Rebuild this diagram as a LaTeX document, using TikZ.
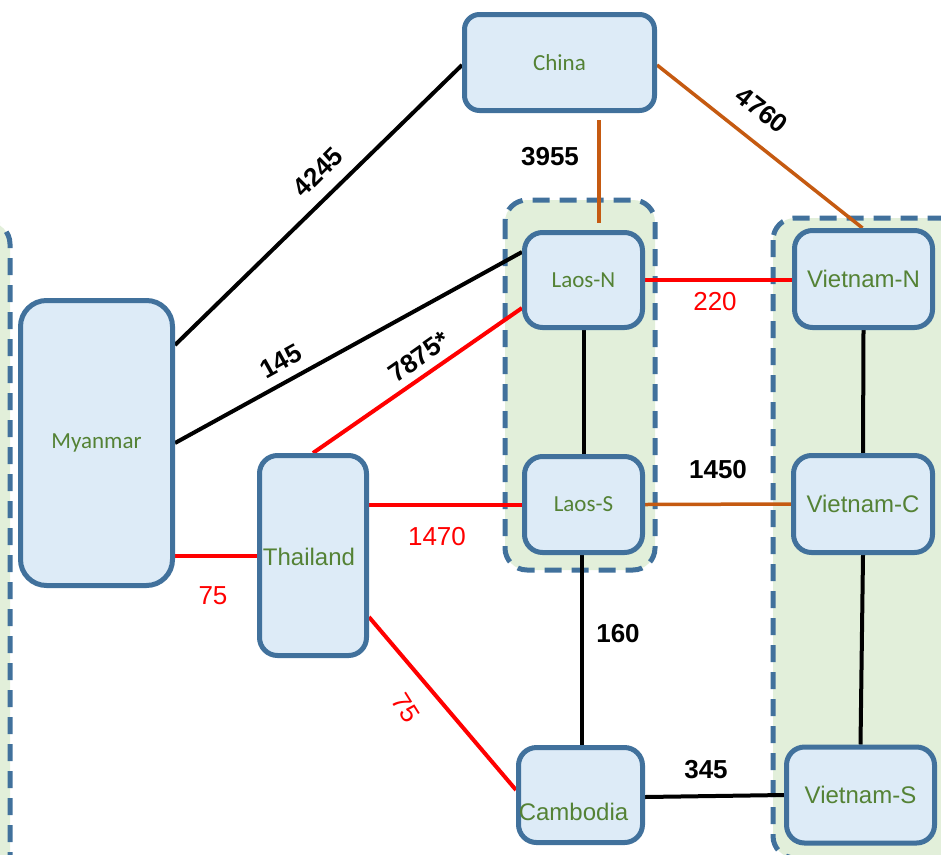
\documentclass[tikz,border=0pt]{standalone}
\usepackage{fontspec}
\setmainfont{Liberation Sans}
\newfontfamily\calib{Carlito}
\newfontfamily\arial{Liberation Sans}
\usetikzlibrary{calc}
\definecolor{boxblue}{HTML}{41719C}
\definecolor{boxfill}{HTML}{DDEBF7}
\definecolor{grpfill}{HTML}{E2EFDA}
\definecolor{txtgreen}{HTML}{548235}
\definecolor{linkorange}{HTML}{C55A11}
\definecolor{linkred}{HTML}{FF0000}
\pgfdeclarelayer{groups}
\pgfdeclarelayer{links}
\pgfsetlayers{groups,links,main}
\tikzset{
  box/.style={draw=boxblue, fill=boxfill, line width=5pt, rounded corners=18pt,
    inner sep=0pt, text=txtgreen},
  cfont/.style={font=\calib\fontsize{23}{27}\selectfont},
  afont/.style={font=\arial\fontsize{24}{28}\selectfont},
  grp/.style={draw=boxblue, fill=grpfill, line width=5pt, rounded corners=22pt,
    dash pattern=on 17pt off 10pt},
  blk/.style={draw=black, line width=4pt},
  redl/.style={draw=linkred, line width=4pt},
  orl/.style={draw=linkorange, line width=3.5pt},
  num/.style={font=\arial\bfseries\fontsize{26}{30}\selectfont, text=black, inner sep=0pt},
  rnum/.style={font=\arial\fontsize{26}{30}\selectfont, text=linkred, inner sep=0pt}
}
\begin{document}
\begin{tikzpicture}[x=1pt,y=-1pt]
\useasboundingbox (0,0) rectangle (941,854);
\clip (0,0) rectangle (941,854);

% country groups
\begin{pgfonlayer}{groups}
  \path[grp] (-200,222) rectangle (10,920);
  \path[grp] (505,200) rectangle (655,570);
  \path[grp] (773,218) rectangle (1000,858);
\end{pgfonlayer}

% nodes
\node[box, cfont, minimum width=190pt, minimum height=96pt, rounded corners=15pt] (china) at (559.5,62.5) {China};
\node[box, cfont, minimum width=152pt, minimum height=285pt, rounded corners=26pt] (mm) at (96.5,443) {\raisebox{-3pt}{Myanmar}};
\node[box, minimum width=107pt, minimum height=200pt,
  label={[name=thtext, afont, text=txtgreen, xshift=-4pt, yshift=-1pt]center:Thailand}] (th) at (313,555.5) {};
\node[box, cfont, minimum width=118pt, minimum height=95pt] (ln) at (583.5,280) {Laos-N};
\node[box, cfont, minimum width=118pt, minimum height=96pt] (ls) at (583.5,504.5) {Laos-S};
\node[box, afont, minimum width=138pt, minimum height=97pt] (vn) at (863.5,279) {Vietnam-N};
\node[box, afont, minimum width=139pt, minimum height=97pt] (vc) at (863,504) {Vietnam-C};
\node[box, afont, minimum width=148pt, minimum height=96pt] (vs) at (860.5,795) {Vietnam-S};
\node[box, minimum width=124pt, minimum height=95pt,
  label={[name=catext, afont, text=txtgreen, xshift=-7pt, yshift=-17pt]center:Cambodia}] (ca) at (580.5,795) {};

% links
\begin{pgfonlayer}{links}
  \draw[blk] ([yshift=-47pt]mm.north east) -- ([yshift=-2.5pt]china.west);
  \draw[blk] (mm.east) -- ([yshift=28pt]ln.west);
  \draw[redl] (th.north) -- ([yshift=-28pt]ln.west);
  \draw[redl] (mm.east |- th.west) -- (th.west);
  \draw[redl] ([yshift=51pt]th.east) -- (ls.west);
  \draw[redl] ([yshift=-61.5pt]th.east) -- ([yshift=5pt]ca.west);
  \draw[orl] ([xshift=39.5pt,yshift=-7pt]china.south) -- ([xshift=15.5pt,yshift=7pt]ln.north);
  \draw[orl] ([yshift=-2.5pt]china.east) -- ([xshift=-1pt]vn.north);
  \draw[redl] (ln.east) -- (ln.east -| vn.west);
  \draw[blk] (ln.south) -- (ls.north);
  \draw[orl] (ls.east) -- (vc.west);
  \draw[blk] ([xshift=-1.5pt]ls.south) -- ([xshift=-1.5pt]ls.south |- ca.north);
  \draw[blk] (vn.south) -- (vc.north);
  \draw[blk] (vc.south) -- (vs.north);
  \draw[blk] ([yshift=-2pt]ca.east) -- (vs.west);
\end{pgfonlayer}

% link labels
\node[num, rotate=45] (l4245) at (318,172) {4245};
\node[num, rotate=29] (l145) at (281,361) {145};
\node[num, rotate=35] (l7875) at (419,357) {7875*};
\node[rnum] (l75a) at (213,596) {75};
\node[rnum] (l1470) at (437,537) {1470};
\node[rnum, rotate=-58] (l75b) at (406,708) {75};
\node[num] (l3955) at (550,157) {3955};
\node[num, rotate=-38] (l4760) at (762,110) {4760};
\node[rnum] (l220) at (715,302) {220};
\node[num] (l1450) at (718,470) {1450};
\node[num] (l160) at (618,634) {160};
\node[num] (l345) at (706,770) {345};
\end{tikzpicture}
\end{document}
